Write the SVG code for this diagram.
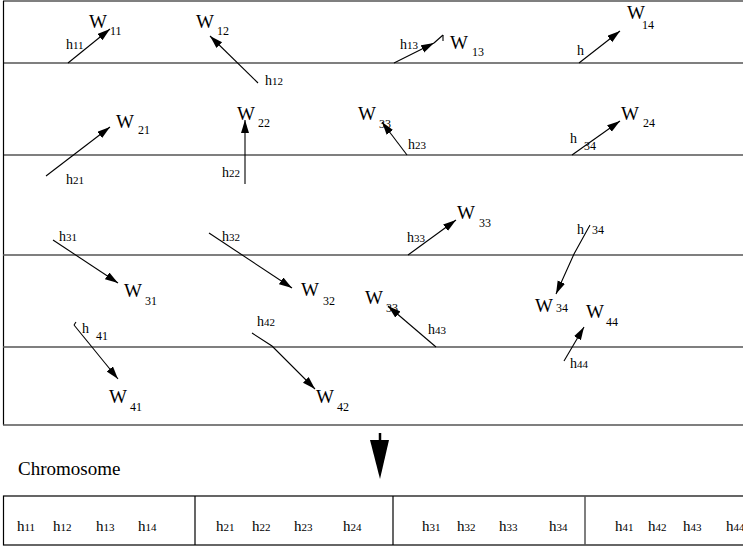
<svg xmlns="http://www.w3.org/2000/svg" width="743" height="547" viewBox="0 0 743 547">
<defs>
<marker id="ah" markerUnits="userSpaceOnUse" markerWidth="14" markerHeight="9" refX="13" refY="4" orient="auto">
<path d="M0,0 L13,4 L0,8 z" fill="#000"/>
</marker>
</defs>
<style>
.t{font-family:"Liberation Serif","Times New Roman",serif;fill:#000}
.W{font-size:19px}
.s{font-size:12px}
.h{font-size:14px}
.hd{font-size:11px}
.c{font-size:15px}
.cd{font-size:11px}
.ln{stroke:#000;stroke-width:1.2;fill:none}
.gl{stroke:#555;stroke-width:1.5;fill:none}
.ar{stroke:#000;stroke-width:1.1;fill:none;marker-end:url(#ah)}
.th{stroke:#000;stroke-width:1.1;fill:none}
</style>
<rect width="743" height="547" fill="#fff"/>
<g id="frame">
<line class="gl" x1="3" y1="1" x2="743" y2="1"/>
<line class="ln" x1="3.5" y1="1" x2="3.5" y2="425"/>
<line class="ln" x1="3" y1="63" x2="743" y2="63"/>
<line class="ln" x1="3" y1="155" x2="743" y2="155"/>
<line class="gl" x1="3" y1="255" x2="743" y2="255"/>
<line class="gl" x1="3" y1="347" x2="743" y2="347"/>
<line class="gl" x1="3" y1="425" x2="743" y2="425"/>
</g>
<g id="connectors">
<line class="ar" x1="68" y1="63" x2="110" y2="29"/>
<line class="ar" x1="258" y1="83" x2="210" y2="36"/>
<line class="ar" x1="394" y1="63" x2="434" y2="43"/>
<line class="th" x1="434" y1="43" x2="443" y2="35"/>
<line class="th" x1="443" y1="35" x2="443" y2="41"/>
<line class="ar" x1="579" y1="63" x2="620" y2="31"/>
<line class="ar" x1="46" y1="176" x2="110" y2="127"/>
<line class="ar" x1="245" y1="184" x2="245" y2="120"/>
<line class="ar" x1="407" y1="155" x2="382" y2="122"/>
<line class="ar" x1="572" y1="155" x2="620" y2="121"/>
<line class="ar" x1="53" y1="240" x2="118" y2="283"/>
<line class="ar" x1="209" y1="233" x2="292" y2="288"/>
<line class="ar" x1="408" y1="255" x2="456" y2="220"/>
<polyline class="ar" points="590,225 574,254 556,294"/>
<line class="ar" x1="74" y1="325" x2="118" y2="379"/>
<line class="th" x1="74" y1="325" x2="76" y2="322"/>
<polyline class="ar" points="252,333 272,346 315,389"/>
<line class="ar" x1="436" y1="347" x2="388" y2="306"/>
<line class="ar" x1="564" y1="361" x2="584" y2="327"/>
</g>
<g id="W11"><text class="t W" x="89" y="28">W</text><text class="t s" x="110" y="35">11</text></g>
<g id="h11"><text class="t h" x="66" y="49">h<tspan class="hd">11</tspan></text></g>
<g id="W12"><text class="t W" x="196" y="28">W</text><text class="t s" x="217" y="35">12</text></g>
<g id="h12"><text class="t h" x="265" y="85">h<tspan class="hd">12</tspan></text></g>
<g id="W13"><text class="t W" x="450" y="49">W</text><text class="t s" x="472" y="56">13</text></g>
<g id="h13"><text class="t h" x="400" y="49">h<tspan class="hd">13</tspan></text></g>
<g id="W14"><text class="t W" x="627" y="19">W</text><text class="t s" x="642" y="29">14</text></g>
<g id="h14"><text class="t h" x="577" y="55">h</text></g>
<g id="W21"><text class="t W" x="116" y="128">W</text><text class="t s" x="138" y="134">21</text></g>
<g id="h21"><text class="t h" x="66" y="184">h<tspan class="hd">21</tspan></text></g>
<g id="W22"><text class="t W" x="237" y="120">W</text><text class="t s" x="258" y="127">22</text></g>
<g id="h22"><text class="t h" x="222" y="177">h<tspan class="hd">22</tspan></text></g>
<g id="W23"><text class="t W" x="358" y="120">W</text><text class="t s" x="379" y="128">33</text></g>
<g id="h23"><text class="t h" x="408" y="149">h<tspan class="hd">23</tspan></text></g>
<g id="W24"><text class="t W" x="621" y="120">W</text><text class="t s" x="643" y="127">24</text></g>
<g id="h24"><text class="t h" x="570" y="143">h</text><text class="t s" x="584" y="150">34</text></g>
<g id="W31"><text class="t W" x="124" y="297">W</text><text class="t s" x="145" y="305">31</text></g>
<g id="h31"><text class="t h" x="59" y="241">h<tspan class="hd">31</tspan></text></g>
<g id="W32"><text class="t W" x="301" y="296">W</text><text class="t s" x="323" y="305">32</text></g>
<g id="h32"><text class="t h" x="222" y="241">h<tspan class="hd">32</tspan></text></g>
<g id="W33"><text class="t W" x="457" y="219">W</text><text class="t s" x="479" y="227">33</text></g>
<g id="h33"><text class="t h" x="407" y="242">h<tspan class="hd">33</tspan></text></g>
<g id="W34"><text class="t W" x="535" y="312">W</text><text class="t s" x="556" y="312">34</text></g>
<g id="h34"><text class="t h" x="577" y="234">h</text><text class="t s" x="592" y="234">34</text></g>
<g id="W41"><text class="t W" x="109" y="403">W</text><text class="t s" x="130" y="411">41</text></g>
<g id="h41"><text class="t h" x="82" y="333">h</text><text class="t s" x="96" y="340">41</text></g>
<g id="W42"><text class="t W" x="316" y="403">W</text><text class="t s" x="337" y="411">42</text></g>
<g id="h42"><text class="t h" x="257" y="326">h<tspan class="hd">42</tspan></text></g>
<g id="W43"><text class="t W" x="365" y="304">W</text><text class="t s" x="386" y="312">33</text></g>
<g id="h43"><text class="t h" x="428" y="334">h<tspan class="hd">43</tspan></text></g>
<g id="W44"><text class="t W" x="586" y="318">W</text><text class="t s" x="606" y="326">44</text></g>
<g id="h44"><text class="t h" x="570" y="368">h<tspan class="hd">44</tspan></text></g>
<g id="bigarrow">
<line x1="380" y1="433" x2="380" y2="442" stroke="#000" stroke-width="2.5"/>
<path d="M370,440 L389,440 L380,479 z" fill="#000"/>
</g>
<g id="chromosome-label"><text class="t" style="font-size:19px" x="18" y="475">Chromosome</text></g>
<g id="chromosome">
<rect x="3.5" y="496" width="745" height="49" fill="none" stroke="#000" stroke-width="1.2"/>
<line class="ln" x1="195" y1="496" x2="195" y2="545"/>
<line class="ln" x1="393" y1="496" x2="393" y2="545"/>
<line class="gl" x1="585" y1="496" x2="585" y2="545"/>
<text class="t c" y="531"><tspan x="17">h</tspan><tspan class="cd">11</tspan><tspan x="53">h</tspan><tspan class="cd">12</tspan><tspan x="96">h</tspan><tspan class="cd">13</tspan><tspan x="138">h</tspan><tspan class="cd">14</tspan></text>
<text class="t c" y="531"><tspan x="216">h</tspan><tspan class="cd">21</tspan><tspan x="252">h</tspan><tspan class="cd">22</tspan><tspan x="294">h</tspan><tspan class="cd">23</tspan><tspan x="343">h</tspan><tspan class="cd">24</tspan></text>
<text class="t c" y="531"><tspan x="422">h</tspan><tspan class="cd">31</tspan><tspan x="457">h</tspan><tspan class="cd">32</tspan><tspan x="499">h</tspan><tspan class="cd">33</tspan><tspan x="549">h</tspan><tspan class="cd">34</tspan></text>
<text class="t c" y="531"><tspan x="615">h</tspan><tspan class="cd">41</tspan><tspan x="648">h</tspan><tspan class="cd">42</tspan><tspan x="683">h</tspan><tspan class="cd">43</tspan><tspan x="726">h</tspan><tspan class="cd">44</tspan></text>
</g>
</svg>
